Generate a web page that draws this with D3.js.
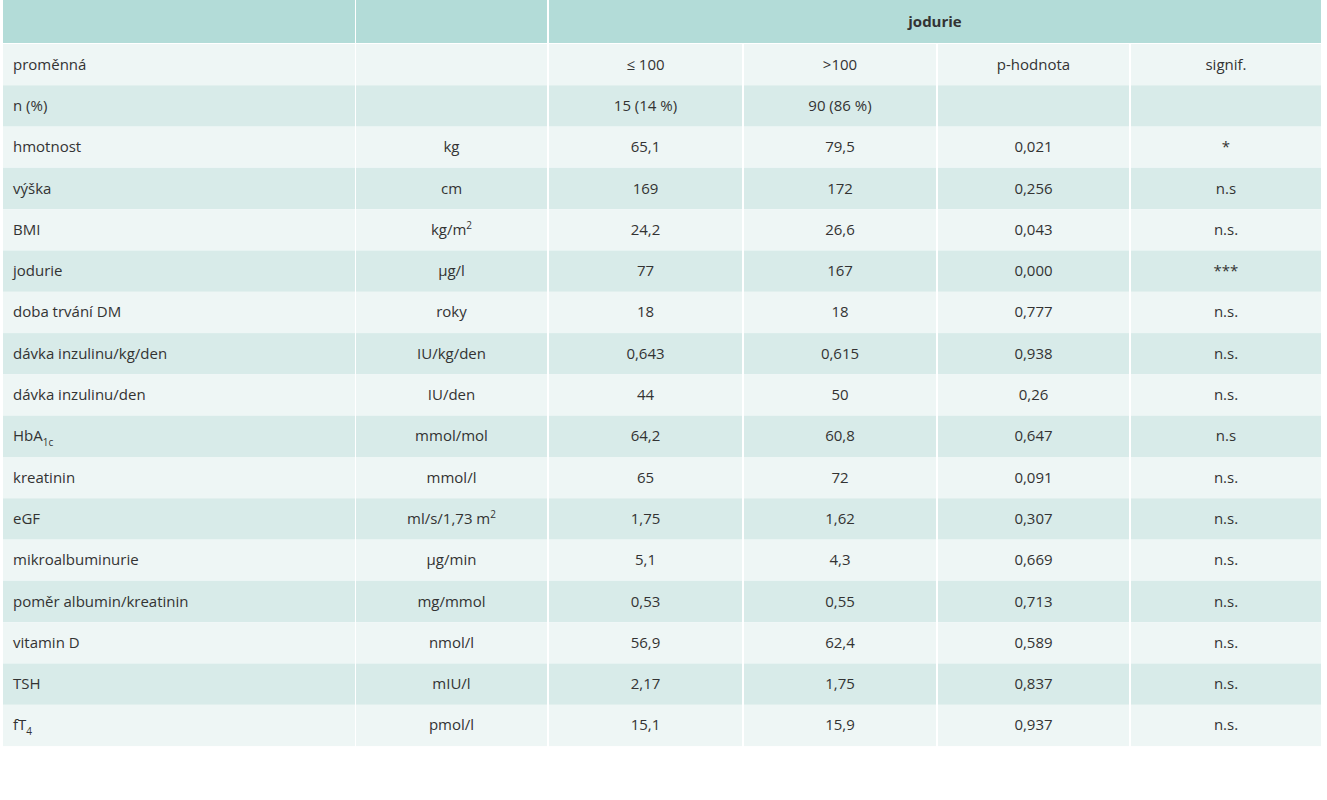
<!DOCTYPE html><html><head><meta charset="utf-8"><script src="https://cdn.jsdelivr.net/npm/d3@7"></script>
<style>body{margin:0;background:#fff}text{font-family:"Open Sans",sans-serif;font-size:15px;fill:#333}</style></head><body><svg id="c" width="1327" height="800"></svg>
<script>
const header = ["", "", "jodurie"];
const colHeads = ["proměnná", "", "≤ 100", ">100", "p-hodnota", "signif."];
const variables = ["n (%)","hmotnost","výška","BMI","jodurie","doba trvání DM","dávka inzulinu/kg/den","dávka inzulinu/den","HbA|1c","kreatinin","eGF","mikroalbuminurie","poměr albumin/kreatinin","vitamin D","TSH","fT|4"];
const units = ["","kg","cm","kg/m^2","µg/l","roky","IU/kg/den","IU/den","mmol/mol","mmol/l","ml/s/1,73 m^2","µg/min","mg/mmol","nmol/l","mIU/l","pmol/l"];
const low = ["15 (14 %)","65,1","169","24,2","77","18","0,643","44","64,2","65","1,75","5,1","0,53","56,9","2,17","15,1"];
const high = ["90 (86 %)","79,5","172","26,6","167","18","0,615","50","60,8","72","1,62","4,3","0,55","62,4","1,75","15,9"];
const pval = ["","0,021","0,256","0,043","0,000","0,777","0,938","0,26","0,647","0,091","0,307","0,669","0,713","0,589","0,837","0,937"];
const signif = ["","*","n.s","n.s.","***","n.s.","n.s.","n.s.","n.s","n.s.","n.s.","n.s.","n.s.","n.s.","n.s.","n.s."];

const svg = d3.select("#c");
const colEdges = [3,355,548,743,937,1130,1322];
const headH = 43, tableTop = 44, rowH = 41.3;
const rows = [colHeads].concat(variables.map((v,i)=>[v,units[i],low[i],high[i],pval[i],signif[i]]));
const y = d3.scaleLinear().domain([0,1]).range([tableTop, tableTop+rowH]);
const hdr = [[0,1],[1,2],[2,6]];
hdr.forEach(([a,b])=>{
  svg.append("rect").attr("x",colEdges[a]+(a?1:0)).attr("y",0).attr("width",colEdges[b]-colEdges[a]-(a?2:0)).attr("height",headH).attr("fill","#b3dcd8");
});
svg.append("text").attr("x",(colEdges[2]+colEdges[6])/2).attr("y",headH/2+5).attr("text-anchor","middle").attr("font-weight","bold").text(header[2]);
function rich(t, s){
  const m = s.match(/^(.*?)([|^])(.*)$/);
  if(!m){t.text(s);return;}
  t.append("tspan").text(m[1]);
  t.append("tspan").attr("font-size","10px").attr("dy", m[2]=="|"?5:-6).text(m[3]);
}
rows.forEach((r,i)=>{
  const fill = i%2==0 ? "#eef6f5" : "#d8ebe9";
  for(let c=0;c<6;c++){
    svg.append("rect").attr("x",colEdges[c]+(c?1:0)).attr("y",y(i)).attr("width",colEdges[c+1]-colEdges[c]-(c?2:0)).attr("height",rowH).attr("fill",fill);
    const t = svg.append("text").attr("y",y(i)+rowH/2+5);
    if(c==0) t.attr("x",13); else t.attr("x",(colEdges[c]+colEdges[c+1])/2).attr("text-anchor","middle");
    rich(t, r[c]);
  }
});
</script></body></html>
